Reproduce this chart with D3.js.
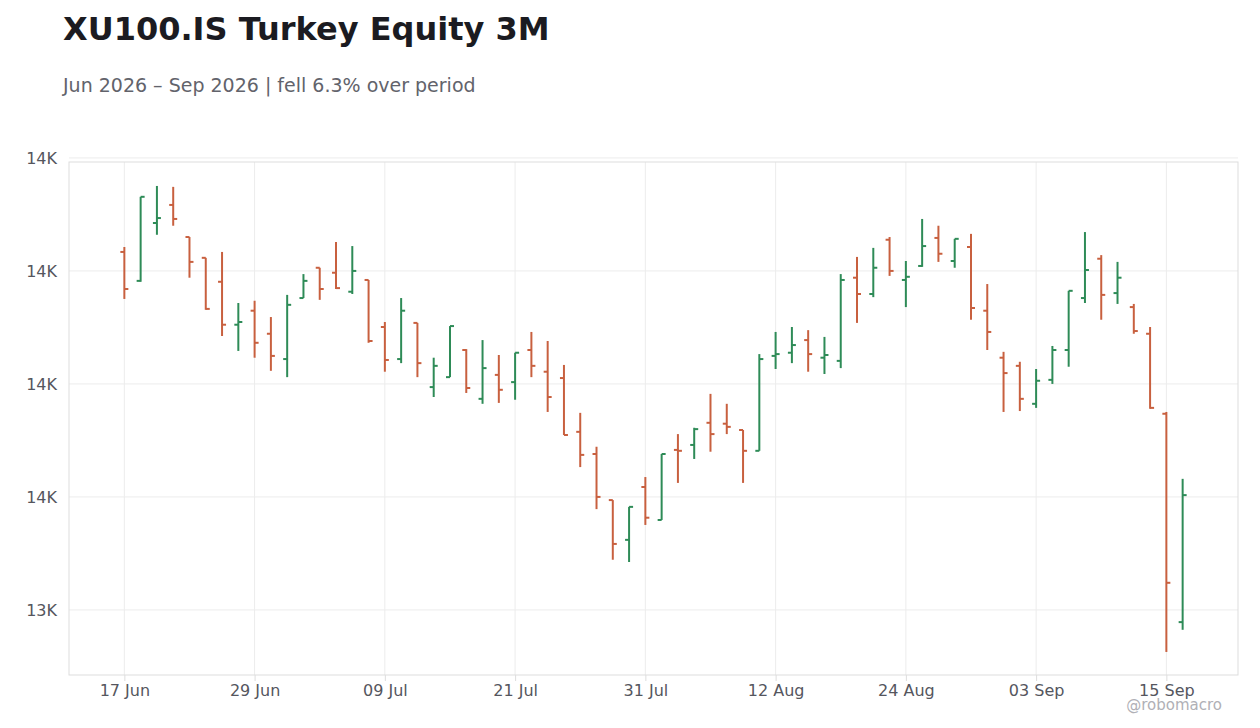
<!DOCTYPE html>
<html>
<head>
<meta charset="utf-8">
<script src="https://cdn.jsdelivr.net/npm/d3@7"></script>
<style>
  body { margin: 0; background: #fff; font-family: "DejaVu Sans", sans-serif; }
</style>
</head>
<body>
<div id="chart"></div>
<script>
const opens  = [14042,13978,14106,14146,14075,14029,13976,13881,13912,13861,13805,13940,14007,13996,13954,13980,13876,13805,13885,13743,13765,13825,13717,13770,13754,13825,13777,13763,13644,13595,13493,13405,13522,13449,13604,13615,13664,13662,13648,13602,13812,13819,13847,13808,13801,13985,13949,14069,13980,14011,14073,14022,14053,13912,13808,13790,13706,13759,13825,13940,14027,13951,13920,13861,13684,13223];
const highs  = [14053,14164,14188,14186,14075,14029,14042,13929,13934,13898,13947,13993,14007,14064,14055,13980,13887,13940,13885,13808,13878,13827,13847,13814,13819,13865,13845,13792,13686,13611,13493,13478,13544,13595,13639,13653,13728,13706,13648,13816,13865,13876,13869,13854,13993,14031,14051,14075,14022,14115,14100,14071,14082,13971,13821,13799,13783,13834,13956,14086,14035,14020,13927,13876,13688,13540];
const lows   = [13938,13976,14080,14100,13985,13914,13856,13823,13808,13779,13765,13940,13936,13960,13949,13841,13777,13796,13765,13721,13765,13730,13706,13708,13715,13765,13688,13637,13566,13473,13361,13356,13438,13449,13531,13584,13600,13639,13531,13602,13783,13796,13777,13772,13785,13885,13942,13989,13920,14009,14020,14007,13892,13825,13688,13690,13697,13750,13788,13929,13892,13927,13861,13695,13157,13206];
const closes = [13960,14164,14117,14115,14020,13916,13881,13887,13841,13812,13925,13978,13960,13962,14000,13845,13803,13912,13796,13790,13878,13741,13785,13737,13819,13790,13721,13637,13593,13500,13396,13478,13454,13595,13602,13650,13639,13655,13602,13805,13816,13836,13816,13814,13980,13949,14007,14000,13987,14055,14038,14071,13918,13865,13774,13717,13757,13825,13956,14002,13947,13985,13867,13697,13310,13504];
const yTicks = [13250, 13500, 13750, 14000, 14250];

// trading days (weekdays) starting 17 Jun 2026
const dates = [];
for (let d = new Date(2026, 5, 17); dates.length < opens.length; d.setDate(d.getDate() + 1)) {
  if (d.getDay() !== 0 && d.getDay() !== 6) dates.push(new Date(d));
}
const bars = dates.map((d, i) => ({ date: d, o: opens[i], h: highs[i], l: lows[i], c: closes[i] }));

const width = 1260, height = 728;
const plotLeft = 69, plotRight = 1238, plotTop = 162, plotBottom = 675;
const up = "#2e8b57", down = "#c8603f";

const svg = d3.select("#chart").append("svg")
  .attr("width", width).attr("height", height);

svg.append("text").attr("x", 63).attr("y", 40)
  .attr("font-size", 32).attr("font-weight", "bold").attr("fill", "#1b1b21")
  .text("XU100.IS Turkey Equity 3M");
svg.append("text").attr("x", 63).attr("y", 92)
  .attr("font-size", 19).attr("fill", "#62636b")
  .text("Jun 2026 – Sep 2026 | fell 6.3% over period");

const x = d3.scalePoint().domain(d3.range(bars.length)).range([plotLeft, plotRight]).padding(3.4);
const y = d3.scaleLinear().domain([13106, 14241]).range([plotBottom, plotTop]);

// grid
const xTickIdx = d3.range(0, bars.length, 8);
svg.append("g").selectAll("line").data(xTickIdx).join("line")
  .attr("x1", i => x(i)).attr("x2", i => x(i)).attr("y1", plotTop).attr("y2", plotBottom)
  .attr("stroke", "#ececec");
svg.append("g").selectAll("line").data(yTicks).join("line")
  .attr("x1", plotLeft).attr("x2", plotRight).attr("y1", d => y(d)).attr("y2", d => y(d))
  .attr("stroke", "#ececec");
svg.append("rect").attr("x", plotLeft).attr("y", plotTop)
  .attr("width", plotRight - plotLeft).attr("height", plotBottom - plotTop)
  .attr("fill", "none").attr("stroke", "#dddddd");

// axes
const fmtDate = d3.timeFormat("%d %b");
const xAxis = d3.axisBottom(x).tickValues(xTickIdx).tickSize(6).tickPadding(4)
  .tickFormat(i => fmtDate(bars[i].date));
const gx = svg.append("g").attr("transform", `translate(0,${plotBottom})`).call(xAxis);
const yAxis = d3.axisLeft(y).tickValues(yTicks).tickSize(0).tickPadding(12)
  .tickFormat(v => Math.round(v / 1000) + "K");
const gy = svg.append("g").attr("transform", `translate(${plotLeft},0)`).call(yAxis);
[gx, gy].forEach(g => {
  g.select(".domain").remove();
  g.selectAll("text").attr("font-size", 16).attr("fill", "#55565e").attr("font-family", "DejaVu Sans");
  g.selectAll("line").attr("stroke", "#dddddd");
});

// OHLC bars
const g = svg.append("g");
const bar = g.selectAll("g").data(bars).join("g")
  .attr("stroke", d => d.c >= d.o ? up : down).attr("stroke-width", 2);
bar.append("line").attr("x1", (d, i) => x(i)).attr("x2", (d, i) => x(i))
  .attr("y1", d => y(d.h)).attr("y2", d => y(d.l));
bar.append("line").attr("x1", (d, i) => x(i) - 4).attr("x2", (d, i) => x(i))
  .attr("y1", d => y(d.o)).attr("y2", d => y(d.o));
bar.append("line").attr("x1", (d, i) => x(i)).attr("x2", (d, i) => x(i) + 4)
  .attr("y1", d => y(d.c)).attr("y2", d => y(d.c));

svg.append("text").attr("x", 1222).attr("y", 710).attr("text-anchor", "end")
  .attr("font-size", 15).attr("fill", "#b0b0b6").text("@robomacro");
</script>
</body>
</html>
